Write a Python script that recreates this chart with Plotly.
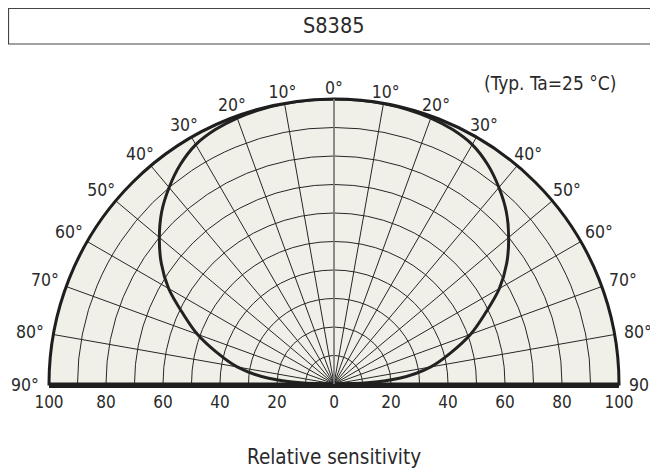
import numpy as np
import plotly.graph_objects as go

# ---- data ----
angles_deg = [0, 5, 10, 15, 20, 25, 30, 35, 40, 45, 50, 55, 60, 65, 70, 75, 80, 85, 90]
rel_sens = [100, 100, 99.9, 99.7, 99.3, 98.5, 97, 94, 90, 85.5, 80, 74, 67, 58.5, 51, 42.5, 34.5, 23, 0]

angle_ticks = [-90, -80, -70, -60, -50, -40, -30, -20, -10, 0, 10, 20, 30, 40, 50, 60, 70, 80, 90]
angle_tick_text = [f"{abs(v)}°" for v in angle_ticks]
radial_grid = [10, 20, 30, 40, 50, 60, 70, 80, 90, 100]
x_ticks = [-100, -80, -60, -40, -20, 0, 20, 40, 60, 80, 100]
x_tick_text = [str(abs(v)) for v in x_ticks]

title_text = "S8385"
cond_text = "(Typ. Ta=25 °C)"
xlabel_text = "Relative sensitivity"

# symmetric curve (both sides)
theta = [-a for a in reversed(angles_deg)] + angles_deg[1:]
r = list(reversed(rel_sens)) + rel_sens[1:]

W, H = 658, 473
FONT = "DejaVu Sans Condensed, DejaVu Sans"
TXT = "#2a2a2a"
EXT = 14.0       # extra room (axis units) of the label overlay around the plot

# polar area in pixels (figure coordinates)
px_l, px_r, px_top, px_base = 41, 611, 91, 376
unit_px = (px_r - px_l) / 200.0
y_low = -1.0 / unit_px  # y-range start so that y=0 sits on the baseline

# label ring: a bit further out at the sides (wider text) than at the top
LABEL_R_TOP = 297.0 / unit_px
LABEL_R_SIDE = 309.0 / unit_px
LABEL_DY = -1.0  # small downward nudge (axis units) for vertical text centring

ang = np.radians(angle_ticks)
lab_r = LABEL_R_TOP + (LABEL_R_SIDE - LABEL_R_TOP) * np.sin(ang) ** 2
lab_x = lab_r * np.sin(ang)
lab_y = lab_r * np.cos(ang) + LABEL_DY

fig = go.Figure()
fig.add_trace(go.Scatterpolar(
    r=r, theta=theta, mode="lines",
    line=dict(color="#222222", width=3, shape="spline"),
    hoverinfo="skip", showlegend=False,
))
# angle labels, centred on their rays just outside the outer circle (same scale as polar)
fig.add_trace(go.Scatter(
    x=lab_x, y=lab_y, mode="text", text=angle_tick_text,
    textposition="middle center", xaxis="x2", yaxis="y2",
    textfont=dict(family=FONT, size=17.5, color=TXT),
    cliponaxis=False, hoverinfo="skip", showlegend=False,
))
# invisible trace to activate the bottom scale axis
fig.add_trace(go.Scatter(x=[x_ticks[0], x_ticks[-1]], y=[0, 0], mode="markers",
                         marker=dict(size=1, opacity=0), hoverinfo="skip", showlegend=False))

fig.update_layout(
    template="none",
    width=W, height=H,
    margin=dict(l=0, r=0, t=0, b=0, pad=0, autoexpand=False),
    paper_bgcolor="white", plot_bgcolor="rgba(0,0,0,0)",
    font=dict(family=FONT, size=16, color=TXT),
    showlegend=False,
    polar=dict(
        domain=dict(x=[px_l / W, px_r / W], y=[(H - px_base) / H, (H - px_top) / H]),
        sector=[0, 180],
        hole=0,
        bgcolor="#f1f0e8",
        angularaxis=dict(
            rotation=90, direction="clockwise",
            tickmode="array", tickvals=angle_ticks, showticklabels=False,
            ticks="", showgrid=True, gridcolor="#262626", gridwidth=1.1,
            showline=True, linecolor="#1e1e1e", linewidth=3,
        ),
        radialaxis=dict(
            range=[0, 100], tickmode="array", tickvals=radial_grid,
            showticklabels=False, ticks="", showgrid=True,
            gridcolor="#262626", gridwidth=1.1,
            showline=True, linecolor="#8a8a8a", linewidth=1.5, angle=90,
        ),
    ),
    xaxis=dict(
        domain=[px_l / W, px_r / W], range=[x_ticks[0], x_ticks[-1]],
        tickmode="array", tickvals=x_ticks, ticktext=x_tick_text,
        showline=True, linecolor="#1e1e1e", linewidth=3,
        showgrid=False, zeroline=False, ticks="", automargin=False,
        tickfont=dict(family=FONT, size=17, color=TXT),
        fixedrange=True,
    ),
    yaxis=dict(
        domain=[(H - px_base - 1) / H, (H - px_top) / H], range=[y_low, 100],
        visible=False, fixedrange=True, automargin=False,
    ),
    xaxis2=dict(
        domain=[max(0.0, (px_l - EXT * unit_px) / W), min(1.0, (px_r + EXT * unit_px) / W)],
        range=[x_ticks[0] - min(EXT, px_l / unit_px), x_ticks[-1] + min(EXT, (W - px_r) / unit_px)],
        anchor="y2", visible=False, fixedrange=True, automargin=False,
    ),
    yaxis2=dict(
        domain=[(H - px_base - 1 - 3 * unit_px) / H, (H - px_top + EXT * unit_px) / H],
        range=[y_low - 3, 100 + EXT], anchor="x2",
        visible=False, fixedrange=True, automargin=False,
    ),
    shapes=[dict(type="rect", xref="paper", yref="paper",
                 x0=0.5 / W, x1=1.05, y0=(H - 36) / H, y1=(H - 0.5) / H,
                 line=dict(color="#444444", width=1.2))],
    annotations=[
        dict(text=title_text, x=326 / W, y=(H - 18) / H, xref="paper", yref="paper",
             xanchor="center", yanchor="middle", showarrow=False,
             font=dict(family=FONT, size=21.5, color=TXT)),
        dict(text=cond_text, x=610 / W, y=(H - 75) / H, xref="paper", yref="paper",
             xanchor="right", yanchor="middle", showarrow=False,
             font=dict(family=FONT, size=19, color=TXT)),
        dict(text=xlabel_text, x=326 / W, y=(H - 449) / H, xref="paper", yref="paper",
             xanchor="center", yanchor="middle", showarrow=False,
             font=dict(family=FONT, size=20.5, color=TXT)),
    ],
)

fig.write_html("out.html")
